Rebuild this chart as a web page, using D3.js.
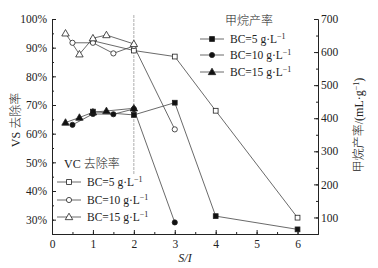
<!DOCTYPE html>
<html>
<head>
<meta charset="utf-8">
<script src="https://cdn.jsdelivr.net/npm/d3@7"></script>
<style>
  body { margin: 0; background: #fff; }
  svg { display: block; }
  text { font-family: "Liberation Serif", "Noto Sans CJK SC", serif; fill: #222; }
  .cjk { font-weight: 300; }
</style>
</head>
<body>
<div id="chart"></div>
<script>
// S/I ratio for each BC level
var xBC5 = [1, 2, 3, 4, 6];
var xBC10 = [0.5, 1, 1.5, 2, 3];
var xBC15 = [0.33, 0.67, 1, 1.33, 2];

// VS removal (%), left axis
var vsBC5 = [92.4, 89.0, 86.9, 68.0, 30.7];
var vsBC10 = [91.7, 91.7, 88.0, 90.6, 61.5];
var vsBC15 = [95.0, 87.7, 93.3, 94.4, 91.3];

// methane yield (mL/g), right axis
var ch4BC5 = [420, 410, 447, 104, 64];
var ch4BC10 = [380, 413, 412, 428, 85];
var ch4BC15 = [387, 402, 418, 422, 430];

var xTicks = [0, 1, 2, 3, 4, 5, 6];
var leftTicks = [30, 40, 50, 60, 70, 80, 90, 100];
var rightTicks = [100, 200, 300, 400, 500, 600, 700];
var legendLabels = ['BC=5 g\u00b7L', 'BC=10 g\u00b7L', 'BC=15 g\u00b7L'];

var W = 378, H = 268;
var plotL = 52, plotR = 318, plotT = 19, plotB = 234;

var svg = d3.select('#chart').append('svg')
    .attr('width', W).attr('height', H);

var x = d3.scaleLinear().domain([0, 6.5]).range([plotL, plotR]);
var yL = d3.scaleLinear().domain([25, 100]).range([plotB, plotT]);
var yR = d3.scaleLinear().domain([50, 700]).range([plotB, plotT]);

function styleAxis(g) {
    g.selectAll('path, line').attr('stroke', '#222').attr('stroke-width', 1);
    g.selectAll('text').style('font-size', '11.5px').attr('fill', '#222')
        .style('font-family', '"Liberation Serif", serif');
}

// minor ticks
svg.append('g').attr('transform', 'translate(' + plotL + ',0)')
    .call(d3.axisLeft(yL).tickValues(d3.range(25, 100.1, 5)).tickSizeInner(-2).tickSizeOuter(0).tickFormat(''))
    .call(styleAxis);
svg.append('g').attr('transform', 'translate(' + plotR + ',0)')
    .call(d3.axisRight(yR).tickValues(d3.range(50, 700.1, 50)).tickSizeInner(-2).tickSizeOuter(0).tickFormat(''))
    .call(styleAxis);
svg.append('g').attr('transform', 'translate(0,' + plotB + ')')
    .call(d3.axisBottom(x).tickValues(d3.range(0, 6.6, 0.5)).tickSizeInner(-2).tickSizeOuter(0).tickFormat(''))
    .call(styleAxis);

// major ticks
svg.append('g').attr('transform', 'translate(' + plotL + ',0)')
    .call(d3.axisLeft(yL).tickValues(leftTicks).tickSizeInner(-4).tickSizeOuter(0).tickPadding(5)
        .tickFormat(function (d) { return d + '%'; }))
    .call(styleAxis);
svg.append('g').attr('transform', 'translate(' + plotR + ',0)')
    .call(d3.axisRight(yR).tickValues(rightTicks).tickSizeInner(-4).tickSizeOuter(0).tickPadding(3)
        .tickFormat(d3.format('d')))
    .call(styleAxis);
svg.append('g').attr('transform', 'translate(0,' + plotB + ')')
    .call(d3.axisBottom(x).tickValues(xTicks).tickSizeInner(-4).tickSizeOuter(0).tickPadding(6)
        .tickFormat(d3.format('d')))
    .call(styleAxis);

// dashed marker line at S/I = 2
svg.append('line')
    .attr('x1', x(2)).attr('x2', x(2))
    .attr('y1', plotT - 4).attr('y2', 175)
    .attr('stroke', '#888').attr('stroke-width', 0.7)
    .attr('stroke-dasharray', '3,1');

// axis titles
svg.append('text').attr('class', 'cjk')
    .attr('transform', 'translate(20,120) rotate(-90)')
    .attr('text-anchor', 'middle')
    .style('font-size', '12px')
    .text('VS 去除率');

var rt = svg.append('text').attr('class', 'cjk')
    .attr('transform', 'translate(363,125) rotate(-90)')
    .attr('text-anchor', 'middle')
    .style('font-size', '12px');
rt.append('tspan').text('甲烷产率/(mL\u00b7g');
rt.append('tspan').attr('dy', -4).style('font-size', '8px').text('\u22121');
rt.append('tspan').attr('dy', 4).text(')');

svg.append('text')
    .attr('x', 185).attr('y', 262)
    .attr('text-anchor', 'middle')
    .style('font-size', '12px').style('font-style', 'italic')
    .text('S/I');

// markers
function marker(g, shape, filled, cx, cy) {
    var fill = filled ? '#111' : '#fff';
    if (shape === 'square') {
        g.append('rect').attr('x', cx - 2.4).attr('y', cy - 2.4)
            .attr('width', 4.8).attr('height', 4.8)
            .attr('fill', fill).attr('stroke', '#222').attr('stroke-width', 0.8);
    } else if (shape === 'circle') {
        g.append('circle').attr('cx', cx).attr('cy', cy).attr('r', 2.6)
            .attr('fill', fill).attr('stroke', '#222').attr('stroke-width', 0.8);
    } else {
        g.append('path')
            .attr('d', d3.symbol().type(d3.symbolTriangle).size(24)())
            .attr('transform', 'translate(' + cx + ',' + (cy + 0.5) + ')')
            .attr('fill', fill).attr('stroke', '#222').attr('stroke-width', 0.8);
    }
}

var series = [
    {xs: xBC5, ys: vsBC5, scale: yL, shape: 'square', filled: false},
    {xs: xBC10, ys: vsBC10, scale: yL, shape: 'circle', filled: false},
    {xs: xBC15, ys: vsBC15, scale: yL, shape: 'triangle', filled: false},
    {xs: xBC15, ys: ch4BC15, scale: yR, shape: 'triangle', filled: true},
    {xs: xBC10, ys: ch4BC10, scale: yR, shape: 'circle', filled: true},
    {xs: xBC5, ys: ch4BC5, scale: yR, shape: 'square', filled: true}
];

var lineG = svg.append('g'), markG = svg.append('g');
series.forEach(function (s) {
    var pts = s.xs.map(function (v, i) { return [x(v), s.scale(s.ys[i])]; });
    lineG.append('path')
        .attr('d', d3.line()(pts))
        .attr('fill', 'none').attr('stroke', '#444').attr('stroke-width', 0.8);
    pts.forEach(function (p) { marker(markG, s.shape, s.filled, p[0], p[1]); });
});

// legends
function legend(title, tx, ty, lx, rows, filled) {
    var g = svg.append('g');
    g.append('text').attr('class', 'cjk').attr('x', tx).attr('y', ty).style('font-size', '12px').text(title);
    var shapes = ['square', 'circle', 'triangle'];
    rows.forEach(function (ry, i) {
        g.append('line').attr('x1', lx).attr('x2', lx + 24).attr('y1', ry).attr('y2', ry)
            .attr('stroke', '#444').attr('stroke-width', 0.8);
        marker(g, shapes[i], filled, lx + 12, ry);
        var t = g.append('text').attr('x', lx + 30).attr('y', ry + 4).style('font-size', '11.5px');
        t.append('tspan').text(legendLabels[i]);
        t.append('tspan').attr('dy', -4).style('font-size', '8px').text('\u22121');
    });
}
legend('甲烷产率', 225, 25, 200, [39, 55, 72], true);
legend('VC 去除率', 64, 168, 57, [182, 200, 217], false);
</script>
</body>
</html>
